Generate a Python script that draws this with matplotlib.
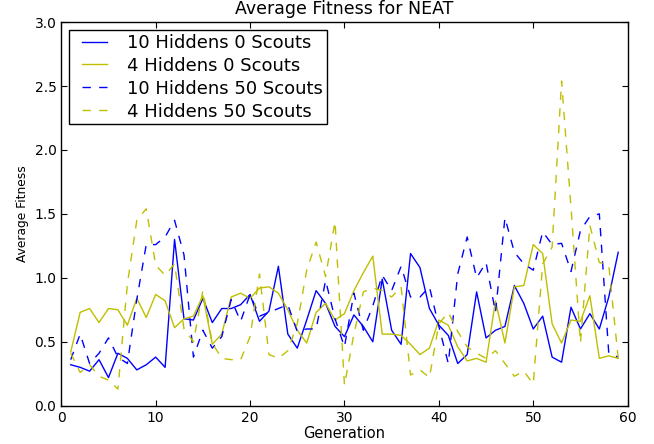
import matplotlib
matplotlib.use("Agg")
import matplotlib.pyplot as plt
from matplotlib.lines import Line2D
from matplotlib.legend_handler import HandlerLine2D

# average fitness per generation for each NEAT configuration
generations = list(range(1, 60))

hid10_scout0 = [0.32, 0.30, 0.27, 0.36, 0.22, 0.41, 0.37, 0.28, 0.32, 0.38,
                0.30, 1.30, 0.68, 0.67, 0.84, 0.65, 0.76, 0.76, 0.79, 0.87,
                0.66, 0.74, 1.09, 0.56, 0.45, 0.67, 0.90, 0.80, 0.62, 0.54,
                0.71, 0.62, 0.50, 0.99, 0.59, 0.48, 1.19, 1.08, 0.76, 0.63,
                0.55, 0.33, 0.40, 0.89, 0.53, 0.59, 0.62, 0.94, 0.80, 0.60,
                0.70, 0.38, 0.34, 0.77, 0.60, 0.72, 0.60, 0.85, 1.20]

hid4_scout0 = [0.42, 0.73, 0.76, 0.65, 0.76, 0.75, 0.63, 0.84, 0.69, 0.87,
               0.82, 0.61, 0.68, 0.70, 0.86, 0.48, 0.56, 0.85, 0.88, 0.84,
               0.92, 0.93, 0.88, 0.75, 0.59, 0.49, 0.73, 0.80, 0.67, 0.72,
               0.90, 1.04, 1.17, 0.56, 0.56, 0.55, 0.48, 0.40, 0.45, 0.67,
               0.63, 0.46, 0.35, 0.37, 0.34, 0.82, 0.49, 0.93, 0.94, 1.26,
               1.19, 0.64, 0.49, 0.67, 0.66, 0.86, 0.37, 0.39, 0.37]

hid10_scout50 = [0.36, 0.56, 0.33, 0.41, 0.53, 0.38, 0.33, 0.83, 1.26, 1.26,
                 1.32, 1.45, 1.18, 0.38, 0.59, 0.45, 0.54, 0.83, 0.66, 0.87,
                 0.70, 0.73, 0.76, 0.79, 0.58, 0.60, 0.60, 0.98, 0.68, 0.46,
                 0.88, 0.59, 0.78, 1.02, 0.90, 1.09, 0.85, 0.85, 0.93, 0.62,
                 0.33, 1.03, 1.32, 1.00, 1.12, 0.73, 1.47, 1.20, 1.11, 1.06,
                 1.36, 1.26, 1.27, 1.05, 1.37, 1.48, 1.50, 0.41, 0.38]

hid4_scout50 = [0.41, 0.26, 0.32, 0.23, 0.20, 0.13, 0.95, 1.45, 1.54, 1.10,
                1.02, 1.11, 0.60, 0.50, 0.90, 0.49, 0.37, 0.36, 0.36, 0.54,
                1.03, 0.40, 0.37, 0.43, 0.64, 1.06, 1.28, 1.01, 1.44, 0.16,
                0.56, 0.89, 0.92, 0.90, 0.85, 0.93, 0.24, 0.28, 0.22, 0.64,
                0.73, 0.58, 0.46, 0.41, 0.37, 0.43, 0.33, 0.23, 0.27, 0.17,
                1.11, 1.24, 2.54, 1.55, 0.49, 1.41, 1.12, 1.10, 0.37]

labels = ["10 Hiddens 0 Scouts", "4 Hiddens 0 Scouts",
          "10 Hiddens 50 Scouts", "4 Hiddens 50 Scouts"]

fig = plt.figure(figsize=(6.54, 4.44), dpi=100)
ax = fig.add_axes([0.0937, 0.0863, 0.866, 0.8638])

ax.plot(generations, hid10_scout0, color="b", lw=1.0, label=labels[0])
ax.plot(generations, hid4_scout0, color=(0.75, 0.75, 0), lw=1.0, label=labels[1])
ax.plot(generations, hid10_scout50, color="b", lw=1.0, dashes=(6, 6), label=labels[2])
ax.plot(generations, hid4_scout50, color=(0.75, 0.75, 0), lw=1.0, dashes=(6, 6), label=labels[3])

ax.set_xlim(0, 60)
ax.set_ylim(0, 3.0)
ax.set_xticks(range(0, 61, 10))
ax.set_yticks([0.0, 0.5, 1.0, 1.5, 2.0, 2.5, 3.0])
ax.set_yticklabels(["%.1f" % t for t in ax.get_yticks()])
ax.tick_params(direction="in", top=True, right=True, length=4, labelsize=10)
for sp in ax.spines.values():
    sp.set_linewidth(1.0)

ax.set_title("Average Fitness for NEAT", fontsize=12.5)
ax.set_xlabel("Generation", fontsize=10.5, labelpad=1)
ax.set_ylabel("Average Fitness", fontsize=8.8)

# xpad pushes the legend sample lines in from the frame edge
leg = ax.legend(loc="upper left", fontsize=13, fancybox=False, framealpha=1,
                edgecolor="black", borderpad=0.2, handlelength=1.9,
                handletextpad=1.1, labelspacing=0.27, borderaxespad=0.45,
                handler_map={Line2D: HandlerLine2D(xpad=0.47)})
leg.get_frame().set_linewidth(1.0)

fig.savefig("out.png", dpi=100, facecolor="white")
